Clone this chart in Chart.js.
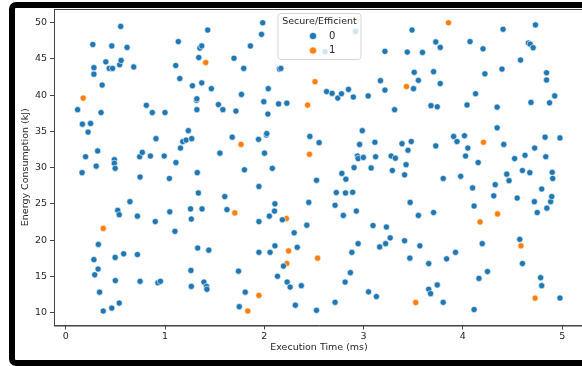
<!DOCTYPE html>
<html>
<head>
<meta charset="utf-8">
<script src="https://cdn.jsdelivr.net/npm/chart.js@4.4.1/dist/chart.umd.min.js"></script>
<style>
  html, body { margin: 0; padding: 0; background: #fff; overflow: hidden; width: 582px; height: 366px; }
  #wrap { position: relative; width: 582px; height: 366px; overflow: hidden; }
  #chart { position: absolute; left: 0; top: 0; }
  #frame {
    position: absolute; left: 9px; top: 2px; width: 640px; height: 364px;
    box-sizing: border-box; border: 6px solid #000; border-radius: 7px;
    pointer-events: none;
  }
</style>
</head>
<body>
<div id="wrap">
  <canvas id="chart" width="600" height="366"></canvas>
  <div id="frame"></div>
</div>
<script>
// Axis labels and ticks
const xTitle = 'Execution Time (ms)';
const yTitle = 'Energy Consumption (kJ)';
const legendTitle = 'Secure/Efficient';
const classLabels = ['0', '1'];
const xTicks = [0, 1, 2, 3, 4, 5];
const yTicks = [10, 15, 20, 25, 30, 35, 40, 45, 50];

// Class 0 points
const execTime0 = [
  0.12, 0.165, 0.168, 0.20, 0.225, 0.25, 0.273, 0.284, 0.284, 0.284, 0.292, 0.307, 0.322, 0.326, 0.329, 0.341,
  0.356, 0.367, 0.378, 0.404, 0.438, 0.464, 0.464, 0.472, 0.49, 0.49, 0.498, 0.498, 0.50, 0.524, 0.539, 0.539,
  0.543, 0.554, 0.558, 0.584, 0.618, 0.647, 0.685, 0.722, 0.722, 0.745, 0.749, 0.749, 0.771, 0.812, 0.853, 0.872,
  0.902, 0.909, 0.928, 0.954, 0.992, 1.0,
  1.044, 1.048, 1.10, 1.108, 1.11, 1.134, 1.149, 1.156, 1.179, 1.213, 1.235, 1.257, 1.261, 1.265, 1.265, 1.269,
  1.276, 1.317, 1.321, 1.321, 1.325, 1.329, 1.336, 1.34, 1.351, 1.37, 1.37, 1.373, 1.392, 1.418, 1.422, 1.43,
  1.441, 1.467, 1.538, 1.553, 1.583, 1.602, 1.624, 1.677, 1.695, 1.714, 1.74, 1.748, 1.77, 1.793, 1.80, 1.808,
  1.86, 1.942, 1.946, 1.946, 1.946, 1.972, 1.984, 1.995, 2.002,
  2.021, 2.025, 2.036, 2.04, 2.051, 2.058, 2.081, 2.103, 2.107, 2.107, 2.133, 2.144, 2.152, 2.167, 2.182, 2.193,
  2.227, 2.23, 2.26, 2.301, 2.313, 2.332, 2.373, 2.428, 2.448, 2.459, 2.526, 2.526, 2.552, 2.612, 2.627, 2.683,
  2.713, 2.713, 2.725, 2.74, 2.777, 2.781, 2.796, 2.814, 2.818, 2.822, 2.848, 2.867, 2.882, 2.89, 2.897, 2.904,
  2.919, 2.927, 2.938, 2.945, 2.945, 2.96, 2.987, 2.998,
  3.046, 3.05, 3.076, 3.095, 3.114, 3.121, 3.129, 3.162, 3.17, 3.215, 3.215, 3.222, 3.23, 3.268, 3.278, 3.29,
  3.312, 3.32, 3.387, 3.413, 3.413, 3.428, 3.44, 3.447, 3.466, 3.469, 3.48, 3.488, 3.503, 3.51, 3.552, 3.552,
  3.567, 3.593, 3.656, 3.656, 3.675, 3.679, 3.705, 3.705, 3.727, 3.727, 3.742, 3.742, 3.772, 3.772, 3.802, 3.802,
  3.836, 3.907, 3.926, 3.941, 3.978,
  4.016, 4.027, 4.042, 4.05, 4.072, 4.098, 4.113, 4.113, 4.128, 4.154, 4.162, 4.195, 4.203, 4.222, 4.248, 4.311,
  4.326, 4.345, 4.345, 4.394, 4.405, 4.412, 4.442, 4.465, 4.521, 4.547, 4.573, 4.581, 4.6, 4.6, 4.626, 4.66,
  4.678, 4.674, 4.686, 4.708, 4.72, 4.723, 4.731, 4.749, 4.783, 4.794, 4.794, 4.828, 4.835, 4.843, 4.843, 4.846,
  4.873, 4.884, 4.895, 4.90, 4.905, 4.925, 4.978, 4.978
];
const energy0 = [
  38.0, 29.3, 36.0, 31.5, 34.9, 36.1, 47.0, 43.8, 42.9, 17.3, 15.2, 30.2, 32.3, 16.0, 19.4, 12.8,
  37.6, 41.4, 10.2, 44.6, 43.7, 46.8, 10.6, 43.7, 31.1, 30.6, 29.9, 17.6, 14.4, 24.1, 23.5, 11.3,
  44.2, 49.5, 44.8, 18.1, 46.6, 25.3, 43.9, 23.3, 18.0, 31.5, 28.7, 14.3, 32.1, 38.6, 31.6, 37.6,
  22.55, 34.0, 14.1, 14.3, 31.6, 37.6,
  28.5, 23.9, 21.2, 44.1, 30.7, 47.4, 42.3, 32.7, 33.6, 33.8, 35.1, 24.3, 15.8, 22.9, 13.6, 34.0,
  41.3, 39.3, 39.5, 38.0, 29.3, 18.9, 26.5, 45.2, 46.5, 46.8, 41.7, 24.3, 14.2, 13.6, 13.2, 49.0,
  18.6, 40.9, 38.7, 32.0, 38.0, 26.0, 24.2, 34.2, 45.1, 37.8, 15.7, 10.8, 40.1, 43.7, 29.7, 12.8,
  46.8, 33.9, 27.4, 22.55, 18.3, 48.4, 50.0, 39.1, 32.0,
  34.5, 34.7, 37.4, 40.9, 23.3, 18.3, 29.9, 24.0, 25.0, 19.2, 15.0, 38.8, 43.6, 43.7, 22.8, 16.4,
  38.9, 14.2, 13.5, 21.0, 11.0, 19.0, 13.7, 22.05, 25.2, 34.3, 28.25, 10.3, 33.45, 46.0, 40.5, 40.25,
  24.8, 11.4, 26.55, 39.6, 40.2, 29.2, 23.4, 14.2, 26.5, 28.4, 40.8, 15.5, 18.3, 26.6, 39.75, 30.0,
  48.8, 24.0, 31.6, 31.25, 19.5, 33.2, 35.1, 31.4,
  39.9, 12.85, 29.95, 22.0, 33.5, 31.5, 12.2, 19.05, 42.0, 40.7, 46.05, 19.5, 21.8, 20.3, 31.6, 29.6,
  38.0, 31.3, 33.3, 19.9, 29.0, 30.4, 45.95, 32.4, 17.5, 25.2, 33.6, 49.0, 40.9, 43.15, 42.05, 23.4,
  19.2, 45.9, 16.75, 13.2, 12.6, 38.55, 23.8, 43.25, 47.35, 33.0, 38.4, 13.8, 46.6, 41.6, 28.5, 11.4,
  17.4, 34.3, 18.3, 33.6, 28.8,
  34.4, 31.6, 38.65, 32.7, 47.4, 27.2, 24.7, 10.4, 40.2, 30.7, 14.7, 19.5, 46.4, 42.95, 15.65, 26.1,
  27.65, 38.35, 35.5, 43.6, 49.1, 33.2, 29.1, 28.2, 31.25, 25.8, 20.1, 44.85, 29.6, 16.75, 31.7, 47.2,
  47.05, 29.3, 39.0, 46.55, 25.3, 32.7, 49.7, 23.8, 14.8, 13.7, 27.05, 34.2, 31.5, 43.1, 42.1, 24.4,
  38.95, 25.3, 26.0, 29.35, 28.5, 39.9, 34.1, 12.0
];

// Class 1 points
const execTime1 = [0.176, 0.378, 1.41, 1.703, 1.766, 1.834, 1.946, 2.223, 2.227, 2.245, 2.436, 2.455, 2.511, 2.537,
  3.432, 3.525, 3.855, 4.173, 4.207, 4.349, 4.585, 4.727];
const energy1 = [39.6, 21.6, 44.5, 23.75, 33.2, 10.2, 12.35, 22.97, 16.76, 18.5, 38.64, 31.84, 41.86, 17.5,
  41.2, 11.38, 50.0, 22.5, 33.5, 23.6, 19.2, 11.98];

const colors = ['#1f77b4', '#ff7f0e'];
const textColor = '#262626';
const spineColor = '#444';
const fontFamily = "'DejaVu Sans', sans-serif";

function toPoints(xs, ys) {
  return xs.map((x, i) => ({ x: x, y: ys[i] }));
}

// Draws the top/right spines and the boxed legend inside the plot
const framePlugin = {
  id: 'frameAndLegend',
  afterDraw(chart) {
    const ctx = chart.ctx;
    const a = chart.chartArea;
    ctx.save();
    ctx.strokeStyle = spineColor;
    ctx.lineWidth = 1;
    ctx.strokeRect(a.left + 0.5, a.top + 0.5, a.right - a.left, a.bottom - a.top);

    // legend box
    const bx = 278, by = 13.5, bw = 83, bh = 46;
    ctx.fillStyle = 'rgba(255,255,255,0.8)';
    ctx.strokeStyle = '#d6d6d6';
    ctx.beginPath();
    ctx.roundRect(bx, by, bw, bh, 3);
    ctx.fill();
    ctx.stroke();

    ctx.font = '9.5px ' + fontFamily;
    ctx.fillStyle = textColor;
    ctx.textAlign = 'center';
    ctx.textBaseline = 'middle';
    ctx.fillText(legendTitle, bx + bw / 2, 21.5);

    ctx.font = '10px ' + fontFamily;
    chart.data.datasets.forEach((ds, i) => {
      const yy = 36 + i * 14.5;
      ctx.beginPath();
      ctx.arc(313, yy, 3.6, 0, Math.PI * 2);
      ctx.fillStyle = ds.backgroundColor;
      ctx.fill();
      ctx.lineWidth = 0.6;
      ctx.strokeStyle = '#fff';
      ctx.stroke();
      ctx.fillStyle = textColor;
      ctx.textAlign = 'left';
      ctx.fillText(ds.label, 329, yy);
    });
    ctx.restore();
  }
};

document.addEventListener('DOMContentLoaded', function() {
  const ctx = document.getElementById('chart').getContext('2d');
  new Chart(ctx, {
    type: 'scatter',
    data: {
      datasets: [
        { label: classLabels[0], data: toPoints(execTime0, energy0), backgroundColor: colors[0] },
        { label: classLabels[1], data: toPoints(execTime1, energy1), backgroundColor: colors[1] }
      ]
    },
    options: {
      responsive: false,
      animation: false,
      layout: { padding: { top: 9, right: 16, left: 0, bottom: 0 } },
      elements: {
        point: { radius: 3.1, hoverRadius: 3.1, borderColor: '#fff', borderWidth: 0.6 }
      },
      plugins: { legend: { display: false }, tooltip: { enabled: false } },
      scales: {
        x: {
          type: 'linear',
          min: -0.118, max: 5.22,
          afterBuildTicks: s => { s.ticks = xTicks.map(v => ({ value: v })); },
          afterFit: s => { s.height = 40.5; },
          grid: { display: true, drawOnChartArea: false, tickLength: 4, color: spineColor },
          border: { display: true, color: spineColor, width: 1 },
          ticks: { color: textColor, padding: 1, font: { family: fontFamily, size: 9.5 }, maxRotation: 0 },
          title: { display: true, text: xTitle, color: textColor, font: { family: fontFamily, size: 9.5 }, padding: { top: 0, bottom: 12.5 } }
        },
        y: {
          type: 'linear',
          min: 8.2, max: 51.9,
          afterBuildTicks: s => { s.ticks = yTicks.map(v => ({ value: v })); },
          afterFit: s => { s.width = 54; },
          grid: { display: true, drawOnChartArea: false, tickLength: 4, color: spineColor },
          border: { display: true, color: spineColor, width: 1 },
          ticks: { color: textColor, padding: 3, font: { family: fontFamily, size: 9.5 } },
          title: { display: true, text: yTitle, color: textColor, font: { family: fontFamily, size: 9.5 }, padding: { top: 20.3, bottom: 0 } }
        }
      }
    },
    plugins: [framePlugin]
  });
});
</script>
</body>
</html>
